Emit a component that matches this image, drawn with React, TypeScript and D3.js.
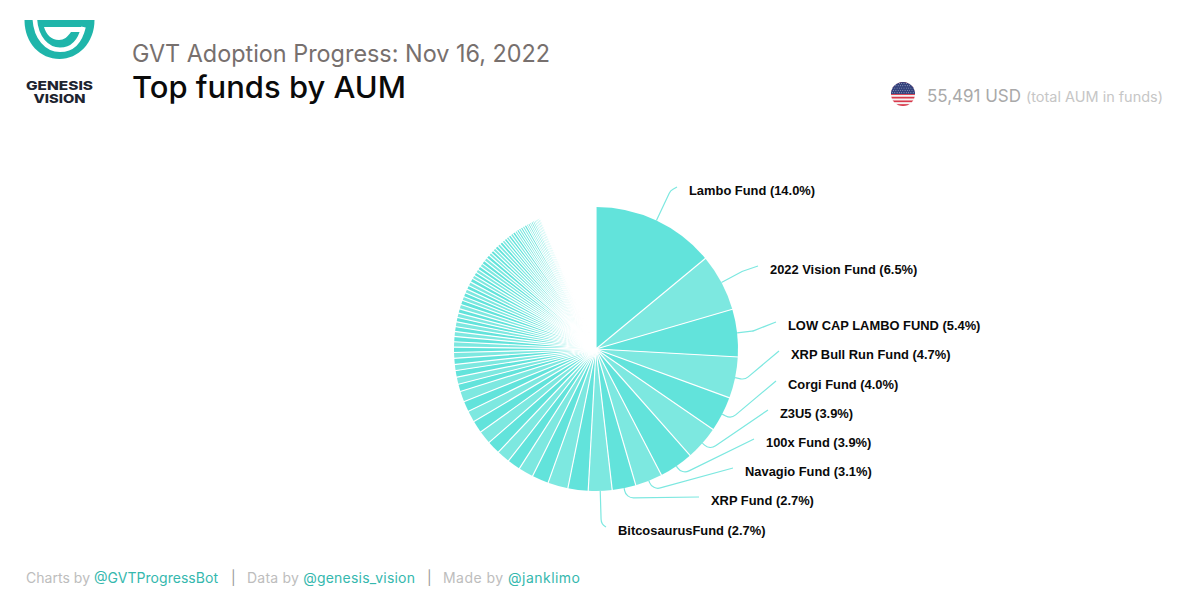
import React from "react";
import * as d3 from "d3";

const topFunds = ["Lambo Fund", "2022 Vision Fund", "LOW CAP LAMBO FUND", "XRP Bull Run Fund", "Corgi Fund", "Z3U5", "100x Fund", "Navagio Fund", "XRP Fund", "BitcosaurusFund"];
const topValues = [14.0, 6.5, 5.4, 4.7, 4.0, 3.9, 3.9, 3.1, 2.7, 2.7];
const midValues = [2.3, 2.3, 1.9, 1.7, 1.5, 1.5, 1.5, 1.5, 1.4, 1.3, 1.2, 1.2, 0.85, 0.8, 0.75, 0.7, 0.7, 0.65, 0.6];
const smallValues = [0.6, 0.6, 0.55, 0.55, 0.55, 0.5, 0.5, 0.5, 0.5, 0.5, 0.45, 0.45, 0.45, 0.45, 0.45, 0.45, 0.4, 0.4, 0.4, 0.4, 0.4, 0.4, 0.4, 0.4, 0.35, 0.35, 0.35, 0.35, 0.35, 0.35, 0.3, 0.3, 0.3, 0.3, 0.3, 0.3];
const tinyValues = [0.25, 0.25, 0.25, 0.25, 0.25, 0.25, 0.2, 0.2, 0.2, 0.2, 0.2, 0.15, 0.15, 0.15, 0.15, 0.15];
const unseenRemainder = [6.4];

const labelLefts = [689, 770, 788, 791, 788, 780, 766, 745, 711, 618];
const labelBaselines = [190, 269, 325, 354, 384, 413, 442, 471, 500, 530];
const bendOffsets = [33, 24, 16, 10, 10, 10, 10, 10, 10, 33];

const CX = 596, CY = 349, R = 142;
const DARK = "#62e3db", LIGHT = "#7de8e0";
const SANS = "Inter, 'Open Sans', sans-serif";

const allValues = [...topValues, ...midValues, ...smallValues, ...tinyValues, ...unseenRemainder];
const remainderIndex = allValues.length - 1;
const slices = d3.pie<number>().sort(null)(allValues);
const visibleSlices = slices.filter((_, i) => i !== remainderIndex);
const arcGen = d3.arc<d3.PieArcDatum<number>>().innerRadius(0).outerRadius(R);
// every slice boundary, including the one that closes the last visible slice
const separatorAngles = slices.map((s) => s.startAngle);

function polar(angle: number, r: number): [number, number] {
  return [CX + r * Math.sin(angle), CY - r * Math.cos(angle)];
}

function leader(i: number) {
  const s = slices[i];
  const mid = (s.startAngle + s.endAngle) / 2;
  const [x0, y0] = polar(mid, R);
  const [x1, y1] = polar(mid, R + bendOffsets[i]);
  const ex = labelLefts[i] - 12, ey = labelBaselines[i] - 3;
  const p = d3.path();
  p.moveTo(x0, y0);
  p.arcTo(x1, y1, ex, ey, 9);
  p.lineTo(ex, ey);
  return p.toString();
}

const flagStripes = d3.range(0, 13);
const flagY = d3.scaleBand<number>().domain(flagStripes).range([82, 106]);
const starCols = d3.range(0, 10);
const starRows = d3.range(0, 5);

export default function App() {
  return (
    <svg width={1200} height={600} viewBox="0 0 1200 600" style={{ position: "absolute", left: 0, top: 0, background: "#fff" }}>
      <defs>
        <clipPath id="flag"><circle cx={903} cy={94} r={12} /></clipPath>
      </defs>

      {/* logo */}
      <path fill="#1fb5aa" d="M24.5 20 H94.5 C94.5 43 78 59 59.5 59 C40 59 24.5 43 24.5 20 Z" />
      <path fill="none" stroke="#fff" strokeWidth={4.6} d="M34.8 19 C36 38 47 49.8 60 49.8 C72 49.8 80 42 83.5 27" />
      <path fill="#fff" d="M44 27 H84 L82 32 H71 C67.5 37 64 40 59 40 C51 40 46 34 44 27 Z" />
      <text x={59.5} y={89.5} textAnchor="middle" fontFamily={SANS} fontWeight={800} fontSize={12} fill="#1d2430" textLength={67} lengthAdjust="spacingAndGlyphs">GENESIS</text>
      <text x={59.5} y={103} textAnchor="middle" fontFamily={SANS} fontWeight={800} fontSize={12} fill="#1d2430" textLength={52} lengthAdjust="spacingAndGlyphs">VISION</text>

      {/* titles */}
      <text x={132} y={62} fontFamily={SANS} fontSize={24} fill="#77706e" textLength={418} lengthAdjust="spacingAndGlyphs">GVT Adoption Progress: Nov 16, 2022</text>
      <text x={132} y={98} fontFamily={SANS} fontSize={30} fontWeight={500} fill="#0a0a0a" textLength={274} lengthAdjust="spacingAndGlyphs">Top funds by AUM</text>

      {/* total */}
      <g clipPath="url(#flag)">
        {flagStripes.map((d) => (
          <rect key={d} x={891} y={flagY(d)} width={24} height={flagY.bandwidth() + 0.2} fill={d % 2 === 0 ? "#d8394b" : "#f4f4f4"} />
        ))}
        <rect x={891} y={82} width={24} height={12} fill="#34427c" />
        {starRows.map((r) =>
          starCols.map((c) => (
            <circle key={`${r}-${c}`} cx={892.5 + c * 2.3 + (r % 2) * 1.1} cy={83.5 + r * 2.3} r={0.45} fill="#dfe3f0" />
          ))
        )}
      </g>
      <text x={927} y={102} fontFamily={SANS} fontSize={17} fill="#a9a9a9" textLength={94} lengthAdjust="spacingAndGlyphs">55,491 USD</text>
      <text x={1026} y={102} fontFamily={SANS} fontSize={14} fill="#c6c6c6" textLength={137} lengthAdjust="spacingAndGlyphs">(total AUM in funds)</text>

      {/* pie: fills first, then the white separators on top of every fill */}
      <g transform={`translate(${CX},${CY})`}>
        {visibleSlices.map((s, i) => (
          <path key={i} d={arcGen(s) ?? ""} fill={i % 2 === 0 ? DARK : LIGHT} />
        ))}
        {separatorAngles.map((a, i) => {
          const [x, y] = polar(a, R + 1);
          return <line key={i} x1={0} y1={0} x2={x - CX} y2={y - CY} stroke="#fff" strokeWidth={i === remainderIndex ? 2 : 1.15} />;
        })}
      </g>

      {/* leaders and labels */}
      {topFunds.map((name, i) => (
        <g key={name}>
          <path d={leader(i)} fill="none" stroke={LIGHT} strokeWidth={1.2} />
          <text x={labelLefts[i]} y={labelBaselines[i] + 4.5} fontFamily="'Liberation Sans', Arial, sans-serif" fontWeight={700} fontSize={12.9} fill="#0a0a0a">
            {`${name} (${topValues[i].toFixed(1)}%)`}
          </text>
        </g>
      ))}

      {/* footer */}
      <text x={26} y={583} fontFamily={SANS} fontSize={14} fill="#bdbdbd" textLength={192} lengthAdjust="spacing">
        Charts by <tspan fill="#35b8ae">@GVTProgressBot</tspan>
      </text>
      <text x={231} y={583} fontFamily={SANS} fontSize={14} fill="#9a9a9a">|</text>
      <text x={247} y={583} fontFamily={SANS} fontSize={14} fill="#bdbdbd" textLength={168} lengthAdjust="spacing">
        Data by <tspan fill="#35b8ae">@genesis_vision</tspan>
      </text>
      <text x={427} y={583} fontFamily={SANS} fontSize={14} fill="#9a9a9a">|</text>
      <text x={443} y={583} fontFamily={SANS} fontSize={14} fill="#bdbdbd" textLength={137} lengthAdjust="spacing">
        Made by <tspan fill="#35b8ae">@janklimo</tspan>
      </text>
    </svg>
  );
}
